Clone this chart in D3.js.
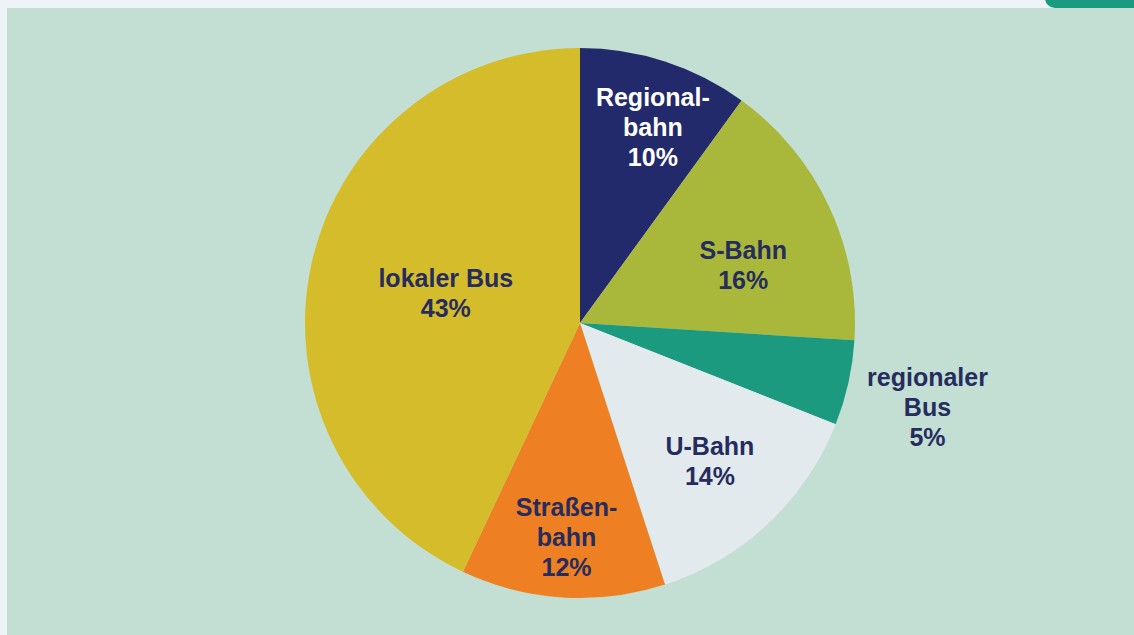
<!DOCTYPE html>
<html>
<head>
<meta charset="utf-8">
<script src="https://cdn.jsdelivr.net/npm/d3@7"></script>
<style>
  html, body { margin: 0; padding: 0; background: #eef3f8; }
  svg { display: block; }
</style>
</head>
<body>
<div id="chart"></div>
<script>
// data, clockwise from 12 o'clock
const categories = ['Regional-\nbahn', 'S-Bahn', 'regionaler\nBus', 'U-Bahn', 'Straßen-\nbahn', 'lokaler Bus'];
const shares = [10, 16, 5, 14, 12, 43];
const sliceColors = ['#232a6b', '#a9b83b', '#1b9a80', '#e2eaee', '#ee7f22', '#d4bc2b'];
const labelColors = ['#ffffff', '#262c5e', '#262c5e', '#262c5e', '#262c5e', '#262c5e'];
// label placement: distance from the centre (share of radius) and a small turn off the mid-angle (degrees)
const labelRadius = [0.76, 0.63, 1.30, 0.69, 0.78, 0.5];
const labelTurn = [2.4, 5.6, 1, 0, 0, 0];

const width = 1134, height = 635;
const cx = 580, cy = 323, r = 275;
const lineH = 30;

const svg = d3.select('#chart')
    .append('svg')
    .attr('width', width)
    .attr('height', height);

// mint panel + the teal tab in the corner
svg.append('rect')
    .attr('x', 7).attr('y', 8)
    .attr('width', width - 7).attr('height', height - 8)
    .attr('fill', '#c3dfd4');
svg.append('rect')
    .attr('x', 1045).attr('y', -12)
    .attr('width', 110).attr('height', 20)
    .attr('rx', 10)
    .attr('fill', '#1a9a7e');

const data = categories.map((c, i) => ({ name: c, value: shares[i], i: i }));

const pie = d3.pie()
    .value(d => d.value)
    .sort(null);
const arcs = pie(data);

const arc = d3.arc().innerRadius(0).outerRadius(r);

const g = svg.append('g')
    .attr('transform', 'translate(' + cx + ',' + cy + ')');

g.selectAll('path')
    .data(arcs)
    .join('path')
    .attr('d', arc)
    .attr('fill', d => sliceColors[d.data.i]);

const labels = g.selectAll('text')
    .data(arcs)
    .join('text')
    .attr('transform', d => {
        const lr = labelRadius[d.data.i] * r;
        const a = (d.startAngle + d.endAngle) / 2 + labelTurn[d.data.i] * Math.PI / 180;
        return 'translate(' + (lr * Math.sin(a)) + ',' + (-lr * Math.cos(a)) + ')';
    })
    .attr('text-anchor', 'middle')
    .attr('fill', d => labelColors[d.data.i])
    .style('font-family', '"Liberation Sans", Arial, sans-serif')
    .style('font-weight', 'bold')
    .style('font-size', '25px');

labels.selectAll('tspan')
    .data(d => {
        const lines = d.data.name.split('\n').concat([d.data.value + '%']);
        return lines.map((t, k) => ({ t: t, k: k, n: lines.length }));
    })
    .join('tspan')
    .attr('x', 0)
    .attr('y', d => (d.k - (d.n - 1) / 2) * lineH + 9)
    .text(d => d.t);
</script>
</body>
</html>
